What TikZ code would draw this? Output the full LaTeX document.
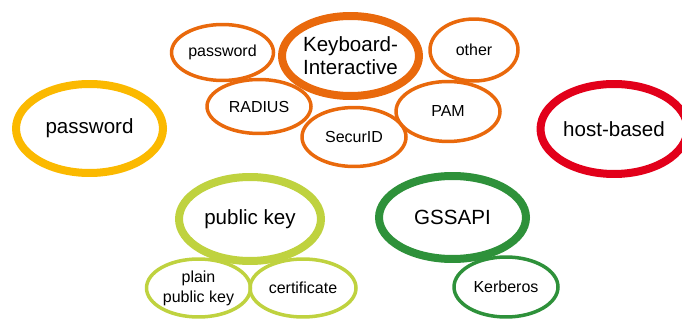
\documentclass[tikz,border=0pt]{standalone}
\usepackage{fontspec}
\setmainfont{Liberation Sans}
\usetikzlibrary{shapes.geometric}
\definecolor{kbdorange}{RGB}{233,105,12}
\definecolor{pwyellow}{RGB}{251,185,0}
\definecolor{hostred}{RGB}{226,0,26}
\definecolor{pklime}{RGB}{191,210,63}
\definecolor{gssgreen}{RGB}{46,145,58}
\begin{document}
\begin{tikzpicture}[x=0.02cm,y=-0.02cm,
		method/.style={ellipse,draw,inner sep=0pt,line width=0.16cm,font=\fontsize{11.7}{13}\selectfont,align=center},
		sub/.style={ellipse,draw,inner sep=0pt,line width=0.07cm,font=\fontsize{9.1}{11.4}\selectfont,align=center}]
			\useasboundingbox (0,0) rectangle (682,320);
			% top level methods
			\node[method,pwyellow,text=black,minimum width=2.94cm,minimum height=1.78cm] (pw) at (89.5,128.5) {password};
			\node[method,hostred,text=black,minimum width=2.94cm,minimum height=1.80cm] (host) at (614,129) {host-based};
			\node[method,pklime,text=black,minimum width=2.84cm,minimum height=1.68cm] (pk) at (250,219) {public key};
			\node[method,gssgreen,text=black,minimum width=2.94cm,minimum height=1.66cm] (gss) at (452.5,217.5) {GSSAPI};
			% keyboard-interactive and its backends
			\node[sub,kbdorange,text=black,minimum width=2.04cm,minimum height=1.12cm] (kpw) at (222.5,52.5) {password};
			\node[sub,kbdorange,text=black,minimum width=1.76cm,minimum height=1.24cm] (other) at (474,50) {other};
			\node[sub,kbdorange,text=black,minimum width=2.08cm,minimum height=1.08cm] (radius) at (259,106.5) {RADIUS};
			\node[sub,kbdorange,text=black,minimum width=2.08cm,minimum height=1.20cm] (pam) at (448,111.5) {PAM};
			\node[sub,kbdorange,text=black,minimum width=2.08cm,minimum height=1.18cm] (securid) at (354,137) {SecurID};
			\node[method,kbdorange,text=black,minimum width=2.74cm,minimum height=1.60cm] (kbd) at (350.5,56) {Keyboard-\\Interactive};
			% sub methods
			\node[sub,pklime,text=black,minimum width=2.08cm,minimum height=1.16cm] (plain) at (198.5,288) {plain\\public key};
			\node[sub,pklime,text=black,minimum width=2.12cm,minimum height=1.16cm] (cert) at (303,288) {certificate};
			\node[sub,gssgreen,text=black,minimum width=2.08cm,minimum height=1.20cm] (krb) at (506,287) {Kerberos};
		\end{tikzpicture}
\end{document}
